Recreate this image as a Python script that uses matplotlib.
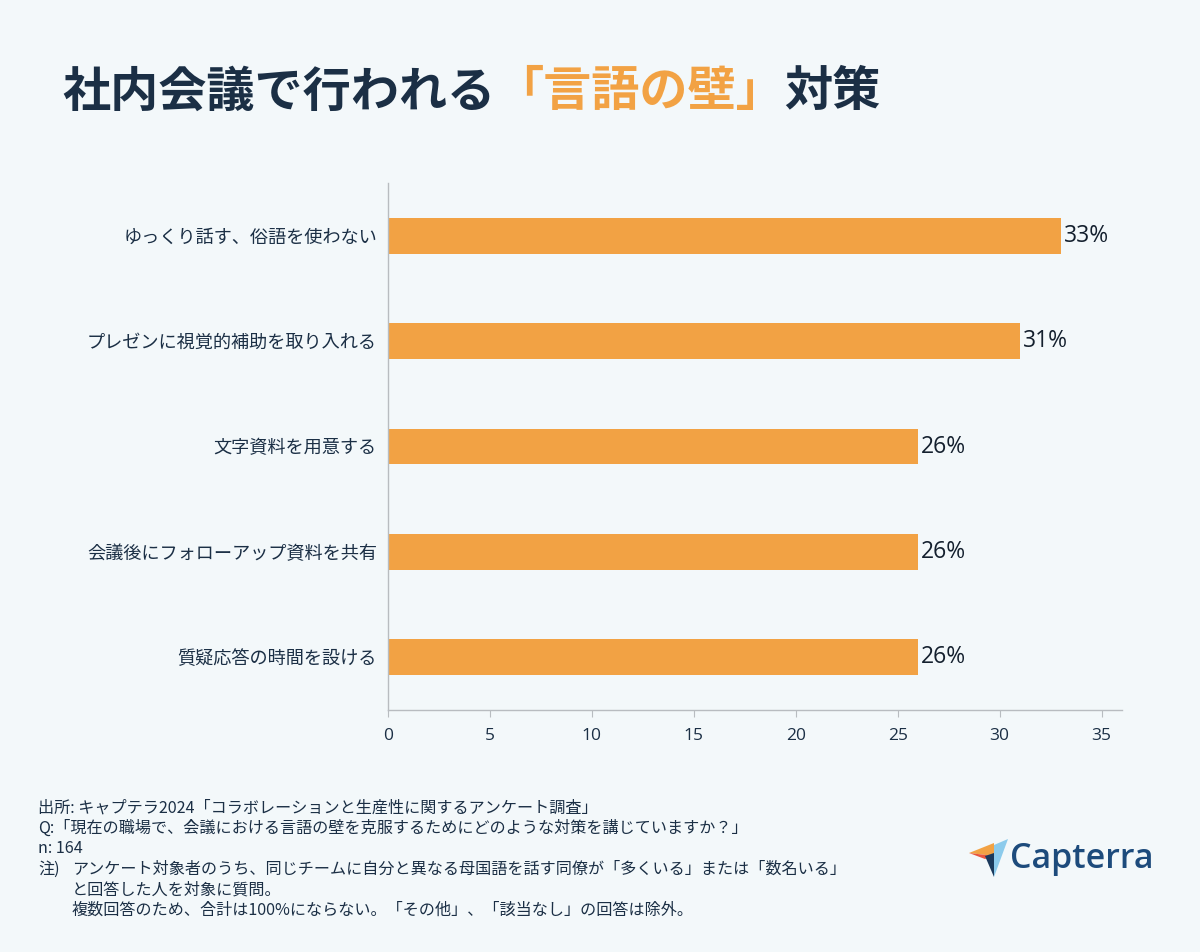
import matplotlib.pyplot as plt
from matplotlib.patches import Polygon

plt.rcParams['font.family'] = ['Noto Sans CJK JP', 'DejaVu Sans']

# データ
categories = ['ゆっくり話す、俗語を使わない', 'プレゼンに視覚的補助を取り入れる', '文字資料を用意する',
              '会議後にフォローアップ資料を共有', '質疑応答の時間を設ける']
values = [33, 31, 26, 26, 26]
xticks = [0, 5, 10, 15, 20, 25, 30, 35]

title_parts = ['社内会議で行われる', '「言語の壁」', '対策']
notes = [
    '出所: キャプテラ2024「コラボレーションと生産性に関するアンケート調査」',
    'Q:「現在の職場で、会議における言語の壁を克服するためにどのような対策を講じていますか？」',
    'n: 164',
]
note_head = '注)'
note_body = [
    'アンケート対象者のうち、同じチームに自分と異なる母国語を話す同僚が「多くいる」または「数名いる」',
    'と回答した人を対象に質問。',
    '複数回答のため、合計は100%にならない。「その他」、「該当なし」の回答は除外。',
]

bg = '#f3f8fa'
navy = '#1b2f45'
orange = '#f2a244'

fig = plt.figure(figsize=(12, 9.52), dpi=100, facecolor=bg)
ax = fig.add_axes([388 / 1200, 1 - 710 / 952, (1122 - 388) / 1200, (710 - 183) / 952])
ax.set_facecolor(bg)

y = range(len(categories))
ax.barh(y, values, height=0.34, color=orange)
for i, v in enumerate(values):
    ax.text(v + 0.15, i, f'{v}%', va='center', ha='left', fontsize=16.5,
            color='#14202e', family=['Open Sans', 'DejaVu Sans'])

ax.set_xlim(0, 36)
ax.set_ylim(4.5, -0.5)
ax.set_yticks(list(y))
ax.set_yticklabels(categories, fontsize=13.1, color=navy)
ax.set_xticks(xticks)
ax.set_xticklabels([str(t) for t in xticks], fontsize=12.5, color=navy,
                   family=['Open Sans', 'DejaVu Sans'])
ax.tick_params(axis='y', length=0, pad=8)
ax.tick_params(axis='x', length=5, color='#b8bcc0', pad=8)
for s in ['top', 'right']:
    ax.spines[s].set_visible(False)
for s in ['left', 'bottom']:
    ax.spines[s].set_color('#b8bcc0')
    ax.spines[s].set_linewidth(1)

# タイトル（色分け）
renderer = fig.canvas.get_renderer()
x0 = 62 / 1200
ty = 1 - 92 / 952
colors = [navy, orange, navy]
for part, c in zip(title_parts, colors):
    t = fig.text(x0, ty, part, fontsize=34.7, fontweight='bold', color=c, va='center', ha='left')
    bb = t.get_window_extent(renderer=renderer)
    x0 = bb.x1 / fig.bbox.width

# 注記
fs = 11.6
for k, line in enumerate(notes):
    fig.text(38 / 1200, 1 - (808 + k * 20.4) / 952, line, fontsize=fs, color=navy,
             va='center', ha='left')
fig.text(38 / 1200, 1 - (808 + 3 * 20.4) / 952, note_head, fontsize=fs, color=navy,
         va='center', ha='left')
for k, line in enumerate(note_body):
    fig.text(72 / 1200, 1 - (808 + (3 + k) * 20.4) / 952, line, fontsize=fs, color=navy,
             va='center', ha='left')

# Capterra ロゴ
def px(x, yy):
    return (x / 1200, 1 - yy / 952)

logo = [
    ([px(969, 853), px(994, 843), px(994, 856)], '#f2a244'),
    ([px(969, 853), px(994, 856), px(985, 859)], '#e8563f'),
    ([px(994, 845), px(1008, 839), px(994, 877)], '#8ccbec'),
    ([px(985, 856), px(994, 853), px(994, 877)], '#1b3a5c'),
]
for pts, c in logo:
    fig.patches.append(Polygon(pts, closed=True, facecolor=c, edgecolor='none',
                               transform=fig.transFigure, figure=fig))
fig.text(1010 / 1200, 1 - 859 / 952, 'Capterra', fontsize=24.5, fontweight='semibold',
         color='#1d4b7c', va='center', ha='left', family=['Open Sans', 'DejaVu Sans'])

fig.savefig('out.png', dpi=100, facecolor=bg)
